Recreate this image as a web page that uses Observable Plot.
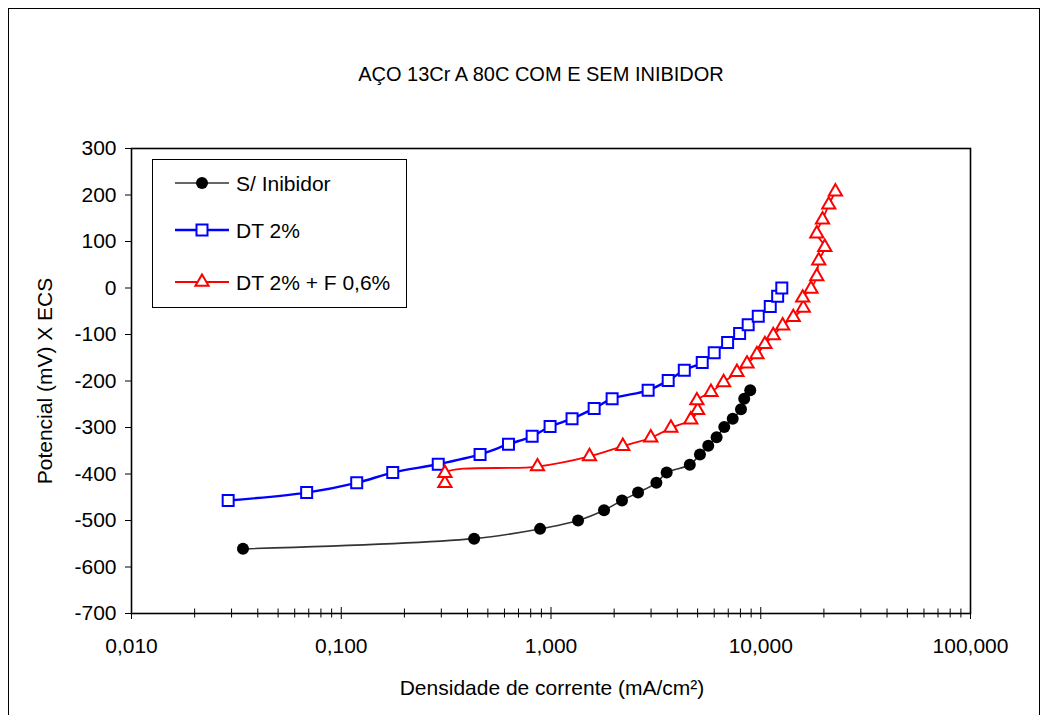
<!DOCTYPE html>
<html><head><meta charset="utf-8">
<script src="https://cdn.jsdelivr.net/npm/d3@7"></script>
<script src="https://cdn.jsdelivr.net/npm/@observablehq/plot@0.6"></script>
<style>body{margin:0;background:#fff}#chart{position:relative;width:1048px;height:715px}</style>
</head><body><div id="chart"></div>
<script>
const seriesNames = ["S/ Inibidor", "DT 2%", "DT 2% + F 0,6%"];

const semInibidorX = [0.034, 0.430, 0.887, 1.346, 1.79, 2.18, 2.60, 3.18, 3.56, 4.59, 5.13, 5.62, 6.16, 6.70, 7.35, 8.05, 8.34, 8.91];
const semInibidorY = [-561, -539, -518, -500, -478, -457, -440, -419, -397, -380, -358, -339, -321, -299, -281, -261, -238, -220];

const dt2X = [0.0289, 0.0684, 0.1185, 0.176, 0.290, 0.459, 0.627, 0.813, 0.99, 1.26, 1.606, 1.956, 2.905, 3.62, 4.32, 5.26, 6.00, 6.95, 7.93, 8.71, 9.73, 11.1, 12.04, 12.6];
const dt2Y = [-457, -440, -419, -397, -379, -358, -336, -319, -298, -281, -259, -238, -220, -199, -177, -160, -139, -117, -98, -79, -61, -40, -18, 0];

const dtfX = [0.312, 0.312, 0.862, 1.526, 2.20, 2.99, 3.73, 4.64, 5.00, 4.96, 5.79, 6.65, 7.70, 8.60, 9.59, 10.47, 11.47, 12.72, 14.29, 15.95, 15.85, 17.36, 18.5, 18.9, 20.2, 18.5, 19.7, 21.1, 22.7];
const dtfY = [-420, -398, -384, -362, -340, -322, -301, -283, -263, -242, -224, -203, -181, -163, -143, -121, -102, -81, -63, -43, -21, -2, 25, 59, 88, 117, 147, 179, 207];

const yTicks = [-700, -600, -500, -400, -300, -200, -100, 0, 100, 200, 300];
const xMajorTicks = [0.01, 0.1, 1, 10, 100];
const xMinorTicks = [];
for (const d of [0.01, 0.1, 1, 10]) for (let k = 2; k <= 9; k++) xMinorTicks.push(+(d * k).toPrecision(3));

const titleText = "AÇO 13Cr A 80C COM E SEM INIBIDOR";
const xLabel = "Densidade de corrente (mA/cm²)";
const yLabel = "Potencial (mV) X ECS";

const toRows = (xs, ys) => xs.map((x, i) => ({x, y: ys[i]}));
const s1 = toRows(semInibidorX, semInibidorY);
const s2 = toRows(dt2X, dt2Y);
const s3 = toRows(dtfX, dtfY);

const fmt = d3.formatLocale({decimal: ",", thousands: ".", grouping: [3], currency: ["", ""]}).format(".3f");
const FONT = "'Liberation Sans', Arial, sans-serif";

const styles = [
  {color: "#333333", lineWidth: 1.6, stroke: "none"},
  {color: "#0000ff", lineWidth: 2.4, stroke: "#0000ff"},
  {color: "#ff0000", lineWidth: 1.8, stroke: "#ff0000"}
];

const plot = Plot.plot({
  width: 1048, height: 715,
  marginLeft: 131, marginRight: 78, marginTop: 148, marginBottom: 102,
  style: {fontFamily: FONT, fontSize: "21px", color: "#000", background: "transparent", overflow: "visible"},
  x: {type: "log", domain: [0.01, 100]},
  y: {domain: [-700, 300]},
  marks: [
    Plot.axisY({ticks: yTicks, tickSize: 6, tickPadding: 9, tickFormat: d => String(d), label: null}),
    Plot.axisX({ticks: xMinorTicks, tickSize: 9, dy: -4.5, tickFormat: () => "", label: null}),
    Plot.axisX({ticks: xMajorTicks, tickSize: 12, dy: -6, tickFormat: () => "", label: null}),
    Plot.axisX({ticks: xMajorTicks, tickSize: 0, tickPadding: 25, tickFormat: fmt, label: null}),
    Plot.frame({stroke: "#000", strokeWidth: 1.6}),
    Plot.line(s1, {x: "x", y: "y", stroke: styles[0].color, strokeWidth: styles[0].lineWidth, curve: "catmull-rom"}),
    Plot.line(s2, {x: "x", y: "y", stroke: styles[1].color, strokeWidth: styles[1].lineWidth, curve: "catmull-rom"}),
    Plot.line(s3, {x: "x", y: "y", stroke: styles[2].color, strokeWidth: styles[2].lineWidth, curve: "catmull-rom"}),
    Plot.dot(s1, {x: "x", y: "y", r: 6, fill: "#000", symbol: "circle"}),
    Plot.dot(s2, {x: "x", y: "y", r: 6.2, fill: "#fff", stroke: styles[1].stroke, strokeWidth: 2, symbol: "square"}),
    Plot.dot(s3, {x: "x", y: "y", r: 4.9, fill: "#fff", stroke: styles[2].stroke, strokeWidth: 2, symbol: "triangle"})
  ]
});

document.getElementById("chart").appendChild(plot);
const svg = d3.select(plot);

// outer chart border
svg.insert("rect", ":first-child").attr("x", 8.5).attr("y", 8.5).attr("width", 1031).attr("height", 730)
  .attr("fill", "none").attr("stroke", "#000").attr("stroke-width", 1);

// title and axis labels
svg.append("text").attr("x", 541).attr("y", 81).attr("text-anchor", "middle")
  .attr("font-family", FONT).attr("font-size", 20).attr("fill", "#000").text(titleText);
svg.append("text").attr("transform", "translate(52,381) rotate(-90)").attr("text-anchor", "middle")
  .attr("font-family", FONT).attr("font-size", 21).attr("fill", "#000").text(yLabel);
svg.append("text").attr("x", 552).attr("y", 695).attr("text-anchor", "middle")
  .attr("font-family", FONT).attr("font-size", 21).attr("fill", "#000").text(xLabel);

// legend
const lg = svg.append("g");
lg.append("rect").attr("x", 152.5).attr("y", 159.5).attr("width", 254).attr("height", 148)
  .attr("fill", "#fff").attr("stroke", "#000").attr("stroke-width", 1);
const legendRows = [183, 230, 282];
const symTypes = [d3.symbolCircle, d3.symbolSquare, d3.symbolTriangle];
const symR = [6, 6.2, 4.9];
seriesNames.forEach((name, i) => {
  const y = legendRows[i];
  const st = styles[i];
  lg.append("line").attr("x1", 175).attr("x2", 229).attr("y1", y).attr("y2", y)
    .attr("stroke", st.color).attr("stroke-width", st.lineWidth);
  lg.append("path").attr("transform", `translate(202,${y})`)
    .attr("d", d3.symbol().type(symTypes[i]).size(Math.PI * symR[i] * symR[i])())
    .attr("fill", i === 0 ? "#000" : "#fff").attr("stroke", i === 0 ? "none" : st.stroke).attr("stroke-width", 2);
  lg.append("text").attr("x", 236).attr("y", y + 7.5).attr("text-anchor", "start")
    .attr("font-family", FONT).attr("font-size", 21).attr("fill", "#000").text(name);
});
</script>
</body></html>
